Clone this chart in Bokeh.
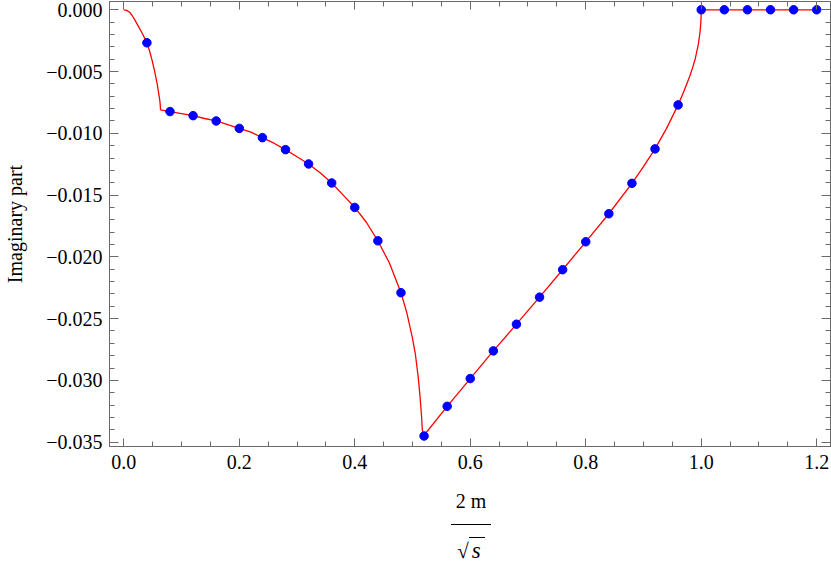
from bokeh.plotting import figure
from bokeh.models import FixedTicker, LinearAxis, CustomJSTickFormatter, Range1d, Div
from bokeh.layouts import column
from bokeh.embed import file_html
from bokeh.resources import INLINE

# ---- data ----
curve_x = [0.000, 0.005, 0.010, 0.015, 0.020, 0.026, 0.033, 0.040, 0.045, 0.049,
           0.053, 0.0578, 0.0605, 0.0624, 0.0632, 0.0636,
           0.08, 0.10, 0.12, 0.14, 0.16, 0.18, 0.20, 0.22, 0.24, 0.26, 0.28, 0.30,
           0.32, 0.34, 0.36, 0.38, 0.40, 0.42, 0.44, 0.46, 0.48, 0.49, 0.50, 0.505,
           0.510, 0.513, 0.5155, 0.517, 0.519,
           0.56, 0.60, 0.64, 0.68, 0.72, 0.76, 0.80, 0.84, 0.88, 0.90, 0.92, 0.94,
           0.96, 0.97, 0.98, 0.985, 0.990, 0.995, 0.998, 0.9995, 1.000, 1.20]
curve_y = [0.0, -0.00005, -0.0002, -0.0005, -0.0009, -0.0014, -0.0020, -0.00267, -0.0034, -0.0041,
           -0.0049, -0.0060, -0.0068, -0.00735, -0.0078, -0.0081,
           -0.00824, -0.0084, -0.00857, -0.0088, -0.0090, -0.0093, -0.0096, -0.0099, -0.01035, -0.0108, -0.01132, -0.0119,
           -0.01248, -0.0132, -0.01402, -0.0150, -0.0160, -0.0172, -0.0187, -0.0205, -0.0229, -0.0245, -0.0266, -0.0279,
           -0.0298, -0.0313, -0.0328, -0.0340, -0.0345,
           -0.0321, -0.02985, -0.02761, -0.02545, -0.02326, -0.02104, -0.01878, -0.01651, -0.01405, -0.0127, -0.01126, -0.0096,
           -0.0077, -0.0066, -0.0054, -0.0047, -0.0039, -0.0028, -0.0018, -0.0009, 0.0, 0.0]

dot_x = [0.04, 0.08, 0.12, 0.16, 0.20, 0.24, 0.28, 0.32, 0.36, 0.40, 0.44, 0.48,
         0.52, 0.56, 0.60, 0.64, 0.68, 0.72, 0.76, 0.80, 0.84, 0.88, 0.92, 0.96,
         1.00, 1.04, 1.08, 1.12, 1.16, 1.20]
dot_y = [-0.00267, -0.00824, -0.00857, -0.0090, -0.0096, -0.01035, -0.01132, -0.01248,
         -0.01402, -0.0160, -0.0187, -0.0229,
         -0.0345, -0.0321, -0.02985, -0.02761, -0.02545, -0.02326, -0.02104, -0.01878,
         -0.01651, -0.01405, -0.01126, -0.0077,
         0.0, 0.0, 0.0, 0.0, 0.0, 0.0]

x_major = [0.0, 0.2, 0.4, 0.6, 0.8, 1.0, 1.2]
x_minor = [i * 0.05 for i in range(0, 25)]
y_major = [0.0, -0.005, -0.010, -0.015, -0.020, -0.025, -0.030, -0.035]
y_minor = [-i * 0.001 for i in range(0, 36)]

y_label = "Imaginary part"
x_label_num = "2 m"
x_label_den = "s"

FONT = "Liberation Serif"
FRAME = "#6a6a6a"

p = figure(width=831, height=480, output_backend="svg", toolbar_location=None,
           x_range=Range1d(-0.0248, 1.2239), y_range=Range1d(-0.03535, 0.00067),
           min_border_left=109, min_border_right=1, min_border_top=1, min_border_bottom=34,
           x_axis_location=None, y_axis_location=None)
p.grid.visible = False
p.outline_line_color = FRAME
p.outline_line_width = 1
p.background_fill_color = "white"
p.border_fill_color = "white"

xt = FixedTicker(ticks=x_major, minor_ticks=x_minor)
yt = FixedTicker(ticks=y_major, minor_ticks=y_minor)
xfmt = CustomJSTickFormatter(code="return tick.toFixed(1);")
yfmt = CustomJSTickFormatter(code="return (tick < -1e-9 ? '\u2212' : '') + Math.abs(tick).toFixed(3);")
blank = CustomJSTickFormatter(code="return '';")

def style(ax, major_in, minor_in, labels=True):
    ax.axis_line_color = FRAME
    ax.major_tick_line_color = FRAME
    ax.minor_tick_line_color = FRAME
    ax.major_tick_in = major_in
    ax.major_tick_out = 0
    ax.minor_tick_in = minor_in
    ax.minor_tick_out = 0
    ax.major_label_text_font = FONT
    ax.major_label_text_color = "black"
    if labels:
        ax.major_label_text_font_size = "20px"
    else:
        ax.major_label_text_font_size = "0px"
        ax.major_label_standoff = 0

bottom = LinearAxis(ticker=xt, formatter=xfmt)
style(bottom, 8, 5)
bottom.major_label_standoff = 8
p.add_layout(bottom, "below")

top = LinearAxis(ticker=xt, formatter=blank)
style(top, 8, 5, labels=False)
p.add_layout(top, "above")

left = LinearAxis(ticker=yt, formatter=yfmt, axis_label=y_label)
style(left, 9, 5)
left.major_label_standoff = 7
left.axis_label_text_font = FONT
left.axis_label_text_font_size = "20px"
left.axis_label_text_font_style = "normal"
left.axis_label_text_color = "black"
left.axis_label_standoff = 17
p.add_layout(left, "left")

right = LinearAxis(ticker=yt, formatter=blank)
style(right, 9, 5, labels=False)
p.add_layout(right, "right")

p.line(curve_x, curve_y, line_color="#ff0000", line_width=1.3)
p.scatter(dot_x, dot_y, size=8.5, fill_color="#0000ff", line_color="#0000ff")

html = (
    "<div style=\"margin-left:451px; margin-top:11px; width:40px; font-family:'Liberation Serif';"
    " font-size:20px; color:#000; text-align:center; line-height:20px;\">"
    "<div>" + x_label_num + "</div>"
    "<div style=\"border-top:1.2px solid #000; margin-top:13px; padding-top:16px; white-space:nowrap\">"
    "<span style=\"font-size:21px\">\u221a</span><span style=\"font-style:italic; font-size:23px;"
    " border-top:1px solid #000; padding:0 4px 0 3px\">"
    + x_label_den + "</span></div></div>"
)
div = Div(text=html, width=831, height=87, margin=(0, 0, 0, 0))

layout = column(p, div, spacing=0)
open("out.html", "w").write(file_html(layout, INLINE))
